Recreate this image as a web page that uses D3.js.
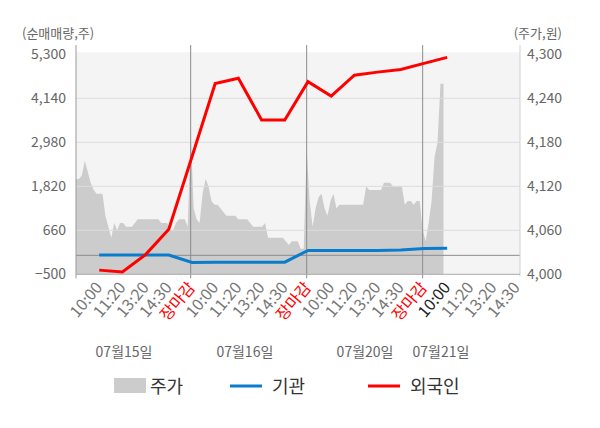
<!DOCTYPE html>
<html>
<head>
<meta charset="utf-8">
<script src="https://cdn.jsdelivr.net/npm/d3@7"></script>
<style>
  body { margin: 0; background: #fff; }
  svg { font-family: "Noto Sans CJK KR", "Noto Sans", sans-serif; }
</style>
</head>
<body>
<div id="chart"></div>
<script>
// 데이터
const days = ["07월15일", "07월16일", "07월20일", "07월21일"];
const timeTicks = ["10:00", "11:20", "13:20", "14:30", "장마감"];
const leftTicks = [-500, 660, 1820, 2980, 4140, 5300];
const rightTicks = [4000, 4060, 4120, 4180, 4240, 4300];

// 외국인 / 기관 순매매량 (10:00, 11:20, 13:20, 14:30, 장마감 x 일자)
const foreign = [-390, -440, 20, 690, 2600, 4530, 4670, 3570, 3570, 4580,
                 4200, 4750, 4830, 4900, 5060, 5220];
const institution = [10, 10, 10, 10, -190, -180, -180, -180, -180, 130,
                     130, 130, 130, 140, 180, 185];

// 주가 (일자별)
const price0715 = [4130, 4130, 4135, 4155, 4140, 4125, 4115, 4110, 4110, 4110,
                   4080, 4065, 4050, 4070, 4060, 4070, 4070, 4065, 4065, 4065,
                   4070, 4075, 4075, 4075, 4075, 4075, 4075, 4075, 4075, 4070,
                   4070, 4070, 4060, 4060, 4070, 4075, 4075, 4075, 4065];
const price0716 = [4195, 4090, 4075, 4070, 4110, 4130, 4120, 4100, 4095, 4095,
                   4090, 4085, 4080, 4080, 4080, 4080, 4075, 4075, 4075, 4075,
                   4070, 4065, 4065, 4065, 4065, 4070, 4050, 4050, 4050, 4050,
                   4050, 4050, 4045, 4040, 4045, 4045, 4045, 4035, 4035];
const price0720 = [4170, 4100, 4065, 4090, 4105, 4110, 4090, 4080, 4100, 4110,
                   4090, 4095, 4095, 4095, 4095, 4095, 4095, 4095, 4095, 4095,
                   4120, 4115, 4115, 4115, 4115, 4115, 4125, 4125, 4125, 4120,
                   4120, 4120, 4120, 4095, 4100, 4100, 4095, 4100, 4100];
const price0721 = [4060, 4045, 4070, 4100, 4160, 4180, 4260, 4260];

const W = 600, H = 428;
const pLeft = 76, pRight = 520, pTop = 54.3, pBottom = 274.3;

const svg = d3.select("#chart").append("svg")
    .attr("width", W).attr("height", H);

const x = d3.scaleLinear().domain([0, 19.14]).range([pLeft, pRight]);
const yL = d3.scaleLinear().domain([-500, 5300]).range([pBottom, pTop]);
const yR = d3.scaleLinear().domain([4000, 4300]).range([pBottom, pTop]);

const slotsPerDay = 39;
const dayX = d => d === 0 ? pLeft : x(d * 5) - 1.3;

// 배경
svg.append("rect")
    .attr("x", pLeft).attr("y", pTop - 2)
    .attr("width", pRight - pLeft).attr("height", pBottom - pTop + 2)
    .attr("fill", "#f4f4f4");

// 주가 영역
const pricePts = [];
[price0715, price0716, price0720, price0721].forEach((arr, d) => {
    const x0 = dayX(d), x1 = dayX(d + 1);
    arr.forEach((v, j) => pricePts.push({x: x0 + (x1 - x0) * j / slotsPerDay, v: v}));
});

svg.append("path")
    .datum(pricePts)
    .attr("d", d3.area().x(d => d.x).y0(pBottom).y1(d => yR(d.v)))
    .attr("fill", "#cccccc");

// 그리드
svg.selectAll(".grid")
    .data(leftTicks.filter(t => t !== -500 && t !== 5300))
    .join("line")
    .attr("x1", pLeft).attr("x2", pRight)
    .attr("y1", d => yL(d)).attr("y2", d => yL(d))
    .attr("stroke", "#dcdcdc").attr("stroke-width", 1);

// 0 라인
svg.append("line")
    .attr("x1", pLeft).attr("x2", pRight)
    .attr("y1", yL(0)).attr("y2", yL(0))
    .attr("stroke", "#8c8c8c").attr("stroke-width", 1);

// 일자 구분선
svg.selectAll(".sep")
    .data([1, 2, 3])
    .join("line")
    .attr("x1", d => dayX(d)).attr("x2", d => dayX(d))
    .attr("y1", 45).attr("y2", pBottom + 4)
    .attr("stroke", "#8c8c8c").attr("stroke-width", 1);

// 축선
svg.append("line")
    .attr("x1", pLeft).attr("x2", pLeft).attr("y1", 45).attr("y2", pBottom + 4)
    .attr("stroke", "#999").attr("stroke-width", 1);
svg.append("line")
    .attr("x1", pRight).attr("x2", pRight).attr("y1", 45).attr("y2", pBottom + 2)
    .attr("stroke", "#d0d0d0").attr("stroke-width", 1);
svg.append("line")
    .attr("x1", pLeft).attr("x2", pRight).attr("y1", pBottom).attr("y2", pBottom)
    .attr("stroke", "#aaa").attr("stroke-width", 1);

// 외국인 / 기관 라인
const line = d3.line().x((d, i) => x(i + 1)).y(d => yL(d));
svg.append("path")
    .datum(institution)
    .attr("d", line)
    .attr("fill", "none").attr("stroke", "#0a7ccc").attr("stroke-width", 3);
svg.append("path")
    .datum(foreign)
    .attr("d", line)
    .attr("fill", "none").attr("stroke", "#ff0000").attr("stroke-width", 3)
    .attr("stroke-linejoin", "miter");

// 좌측 축 라벨
svg.selectAll(".lt")
    .data(leftTicks)
    .join("text")
    .attr("x", 66).attr("y", d => yL(d) + 5)
    .attr("text-anchor", "end")
    .attr("font-size", 14).attr("fill", "#666")
    .text(d => d3.format(",")(d));

// 우측 축 라벨
svg.selectAll(".rt")
    .data(rightTicks)
    .join("text")
    .attr("x", 527).attr("y", d => yR(d) + 5)
    .attr("font-size", 14).attr("fill", "#666")
    .text(d => d3.format(",")(d));

svg.append("text")
    .attr("x", 22).attr("y", 38)
    .attr("font-size", 13).attr("fill", "#666")
    .text("(순매매량,주)");
svg.append("text")
    .attr("x", 562).attr("y", 38).attr("text-anchor", "end")
    .attr("font-size", 13).attr("fill", "#666")
    .text("(주가,원)");

// x 축 시간 라벨
const tickData = [];
days.forEach((day, d) => {
    timeTicks.forEach((t, k) => {
        if (d === 3 && k === 4) return;
        tickData.push({slot: d * 5 + k + 1, label: t, d: d, k: k});
    });
});

svg.selectAll(".xt")
    .data(tickData)
    .join("text")
    .attr("transform", d => `translate(${x(d.slot) + 4},288) rotate(-50)`)
    .attr("text-anchor", "end")
    .attr("font-size", 16)
    .attr("fill", d => d.k === 4 ? "#ff0000" : (d.d === 3 && d.k === 0 ? "#222" : "#777"))
    .text(d => d.label);

// 일자 라벨
const dayLabelSlot = [2.07, 7.28, 12.46, 15.73];
svg.selectAll(".dl")
    .data(days)
    .join("text")
    .attr("x", (d, i) => x(dayLabelSlot[i]))
    .attr("y", 357)
    .attr("text-anchor", "middle")
    .attr("font-size", 14).attr("fill", "#666")
    .text(d => d);

// 범례
const lg = svg.append("g");
lg.append("rect").attr("x", 114).attr("y", 378).attr("width", 32).attr("height", 15)
    .attr("fill", "#cccccc");
lg.append("text").attr("x", 150).attr("y", 393).attr("font-size", 18).attr("fill", "#333")
    .text("주가");
lg.append("line").attr("x1", 230).attr("x2", 262).attr("y1", 386).attr("y2", 386)
    .attr("stroke", "#0a7ccc").attr("stroke-width", 3);
lg.append("text").attr("x", 272).attr("y", 393).attr("font-size", 18).attr("fill", "#333")
    .text("기관");
lg.append("line").attr("x1", 368).attr("x2", 400).attr("y1", 386).attr("y2", 386)
    .attr("stroke", "#ff0000").attr("stroke-width", 3);
lg.append("text").attr("x", 410).attr("y", 393).attr("font-size", 18).attr("fill", "#333")
    .text("외국인");
</script>
</body>
</html>
